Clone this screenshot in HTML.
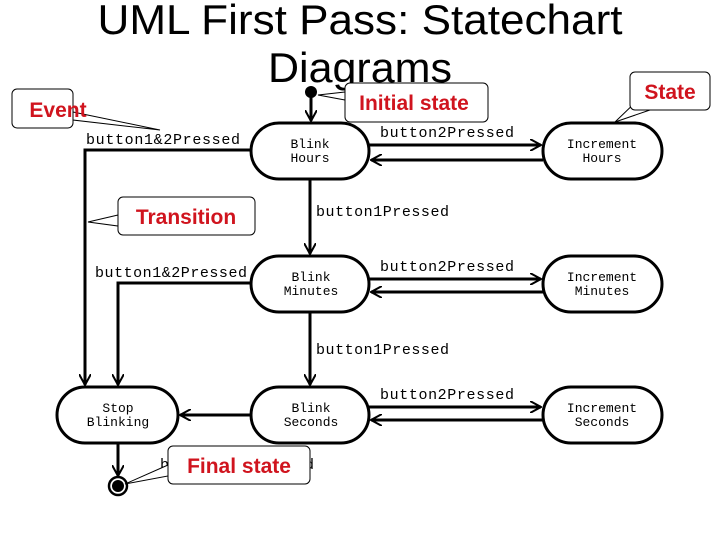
<!DOCTYPE html>
<html><head><meta charset="utf-8"><style>body{margin:0;background:#fff}svg{display:block}</style></head><body>
<svg width="720" height="540" viewBox="0 0 720 540" xmlns="http://www.w3.org/2000/svg">
<defs>
<marker id="a" viewBox="0 0 12 12" refX="11" refY="6" markerWidth="12" markerHeight="12" markerUnits="userSpaceOnUse" orient="auto"><path d="M0,0 L11,6 L0,12" fill="none" stroke="#000" stroke-width="2"/></marker>
</defs>
<g font-family="Liberation Sans, sans-serif" font-size="42" text-anchor="middle" fill="#000">
<text x="360" y="34" textLength="525" lengthAdjust="spacingAndGlyphs">UML First Pass: Statechart</text>
<text x="360" y="82" textLength="184" lengthAdjust="spacingAndGlyphs">Diagrams</text>
</g>
<g stroke="#000" stroke-width="3" fill="none">
<rect x="251" y="123" width="118" height="56" rx="28"/>
<rect x="543" y="123" width="119" height="56" rx="28"/>
<rect x="251" y="256" width="118" height="56" rx="28"/>
<rect x="543" y="256" width="119" height="56" rx="28"/>
<rect x="251" y="387" width="118" height="56" rx="28"/>
<rect x="543" y="387" width="119" height="56" rx="28"/>
<rect x="57" y="387" width="121" height="56" rx="28"/>
<line x1="311" y1="95" x2="311" y2="121" marker-end="url(#a)"/>
<line x1="369" y1="145" x2="541" y2="145" marker-end="url(#a)"/>
<line x1="543" y1="160" x2="371" y2="160" marker-end="url(#a)"/>
<line x1="369" y1="279" x2="541" y2="279" marker-end="url(#a)"/>
<line x1="543" y1="292" x2="371" y2="292" marker-end="url(#a)"/>
<line x1="369" y1="407" x2="541" y2="407" marker-end="url(#a)"/>
<line x1="543" y1="420" x2="371" y2="420" marker-end="url(#a)"/>
<line x1="310" y1="179" x2="310" y2="254" marker-end="url(#a)"/>
<line x1="310" y1="312" x2="310" y2="385" marker-end="url(#a)"/>
<polyline points="251,150 85,150 85,385" marker-end="url(#a)"/>
<polyline points="251,283 118,283 118,385" marker-end="url(#a)"/>
<line x1="251" y1="415" x2="180" y2="415" marker-end="url(#a)"/>
<line x1="118" y1="443" x2="118" y2="476" marker-end="url(#a)"/>
</g>
<circle cx="311" cy="92" r="6" fill="#000"/>
<circle cx="118" cy="486" r="9" fill="none" stroke="#000" stroke-width="2.5"/>
<circle cx="118" cy="486" r="6" fill="#000"/>
<g font-family="Liberation Mono, monospace" font-size="15" fill="#000">
<text x="86" y="144" textLength="154">button1&amp;2Pressed</text>
<text x="95" y="277" textLength="152">button1&amp;2Pressed</text>
<text x="380" y="137" textLength="134">button2Pressed</text>
<text x="380" y="271" textLength="134">button2Pressed</text>
<text x="380" y="399" textLength="134">button2Pressed</text>
<text x="316" y="216" textLength="133">button1Pressed</text>
<text x="316" y="354" textLength="133">button1Pressed</text>
<text x="160" y="469">b</text><text x="305" y="469">d</text>
</g>
<g font-family="Liberation Mono, monospace" font-size="13" fill="#000" text-anchor="middle">
<text x="310" y="148">Blink</text><text x="310" y="162">Hours</text>
<text x="602" y="148">Increment</text><text x="602" y="162">Hours</text>
<text x="311" y="281">Blink</text><text x="311" y="295">Minutes</text>
<text x="602" y="281">Increment</text><text x="602" y="295">Minutes</text>
<text x="311" y="412">Blink</text><text x="311" y="426">Seconds</text>
<text x="602" y="412">Increment</text><text x="602" y="426">Seconds</text>
<text x="118" y="412">Stop</text><text x="118" y="426">Blinking</text>
</g>
<g stroke="#000" stroke-width="1" fill="#fff">
<polygon points="73,112 160,130 73,120"/>
<rect x="12" y="89" width="61" height="39" rx="5"/>
<polygon points="345,92 318,95 345,100"/>
<rect x="345" y="83" width="143" height="39" rx="5"/>
<polygon points="640,98 615,122 650,110"/>
<rect x="630" y="72" width="80" height="38" rx="5"/>
<polygon points="118,215 88,222 118,226"/>
<rect x="118" y="197" width="137" height="38" rx="5"/>
<polygon points="168,465 125,484 168,476"/>
<rect x="168" y="446" width="142" height="38" rx="5"/>
</g>
<g font-family="Liberation Sans, sans-serif" font-size="21" font-weight="bold" fill="#d0141e" text-anchor="middle">
<text x="58" y="117">Event</text>
<text x="414" y="110">Initial state</text>
<text x="670" y="99">State</text>
<text x="186" y="224">Transition</text>
<text x="239" y="473">Final state</text>
</g>
</svg>
</body></html>
